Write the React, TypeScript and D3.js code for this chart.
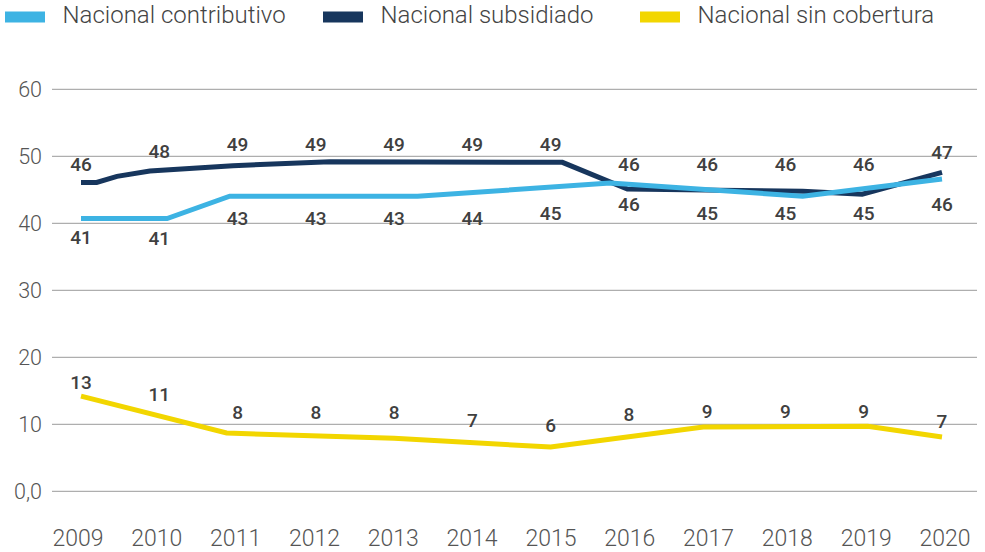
import React from "react";
import * as d3 from "d3";

const years = [2009, 2010, 2011, 2012, 2013, 2014, 2015, 2016, 2017, 2018, 2019, 2020];
const yTicks = [0, 10, 20, 30, 40, 50, 60];

// line traces (fractional year, value)
const contributivoLine: [number, number][] = [
  [2009.0, 40.7], [2010.1, 40.7], [2010.9, 44.05], [2013.3, 44.05],
  [2015.76, 46.0], [2018.22, 44.05], [2020.0, 46.6],
];
const subsidiadoLine: [number, number][] = [
  [2009.0, 46.1], [2009.2, 46.1], [2009.46, 47.0], [2009.88, 47.8],
  [2010.94, 48.6], [2012.18, 49.2], [2015.15, 49.1], [2015.98, 45.1],
  [2018.22, 44.8], [2018.98, 44.35], [2020.0, 47.6],
];
const sinCoberturaLine: [number, number][] = [
  [2009.0, 14.2], [2010.86, 8.7], [2013.0, 7.9], [2015.0, 6.6],
  [2016.95, 9.6], [2019.05, 9.7], [2020.0, 8.1],
];

// yearly values used for the data labels
const subsidiadoValues = [45.8, 47.8, 48.9, 48.9, 48.9, 48.9, 48.9, 45.9, 45.9, 45.9, 45.9, 47.7];
const subsidiadoLabels = [46, 48, 49, 49, 49, 49, 49, 46, 46, 46, 46, 47];
const contributivoValues = [40.85, 40.7, 43.7, 43.7, 43.7, 43.7, 44.5, 45.8, 44.5, 44.5, 44.5, 45.8];
const contributivoLabels = [41, 41, 43, 43, 43, 44, 45, 46, 45, 45, 45, 46];
const sinCoberturaValues = [13.3, 11.5, 8.85, 8.85, 8.85, 7.7, 6.9, 8.6, 9.0, 9.0, 9.0, 7.5];
const sinCoberturaLabels = [13, 11, 8, 8, 8, 7, 6, 8, 9, 9, 9, 7];

const seriesNames = ["Nacional contributivo", "Nacional subsidiado", "Nacional sin cobertura"];
const colors = ["#3DB3E3", "#17365D", "#F2D600"];

export default function App() {
  const W = 985, H = 552;
  const x = d3.scaleLinear().domain([2009, 2020]).range([81, 942]);
  const xTick = d3.scaleLinear().domain([2009, 2020]).range([78, 945]);
  const y = d3.scaleLinear().domain([0, 60]).range([491.3, 89.3]);
  const line = d3.line<[number, number]>().x((d) => x(d[0])).y((d) => y(d[1]));

  const font = "Roboto, 'Noto Sans', sans-serif";
  const legendX = [5, 323, 640];

  const labelEls = (vals: number[], labels: number[], above: boolean, key: string) =>
    years.map((yr, i) => (
      <text key={key + i} x={x(yr)} y={y(vals[i]) + (above ? -20 : 20)} dy="0.36em"
        textAnchor="middle" fontSize={19} fontWeight={500} fill="#404040">
        {labels[i]}
      </text>
    ));

  return (
    <svg width={W} height={H} style={{ position: "absolute", left: 0, top: 0 }} fontFamily={font}>
      <rect width={W} height={H} fill="#fff" />
      {/* legend */}
      {seriesNames.map((n, i) => (
        <g key={n}>
          <rect x={legendX[i]} y={11.5} width={40} height={11} fill={colors[i]} />
          <text x={legendX[i] + 57.5} y={23.3} fontSize={24} fontWeight={300} fill="#444">{n}</text>
        </g>
      ))}
      {/* grid */}
      {yTicks.map((t) => (
        <g key={t}>
          <line x1={52} x2={977} y1={y(t)} y2={y(t)} stroke="#9a9a9a" strokeWidth={1} />
          <text x={42} y={y(t)} dy="0.36em" textAnchor="end" fontSize={21.5} fontWeight={300} fill="#555">
            {t === 0 ? "0,0" : t}
          </text>
        </g>
      ))}
      {years.map((yr) => (
        <text key={yr} x={xTick(yr)} y={546} textAnchor="middle" fontSize={23} fontWeight={300} fill="#555">
          {yr}
        </text>
      ))}
      {/* lines */}
      <path d={line(sinCoberturaLine) || ""} fill="none" stroke={colors[2]} strokeWidth={5} />
      <path d={line(subsidiadoLine) || ""} fill="none" stroke={colors[1]} strokeWidth={5} />
      <path d={line(contributivoLine) || ""} fill="none" stroke={colors[0]} strokeWidth={5} />
      {/* labels */}
      {labelEls(subsidiadoValues, subsidiadoLabels, true, "s")}
      {labelEls(contributivoValues, contributivoLabels, false, "c")}
      {labelEls(sinCoberturaValues, sinCoberturaLabels, true, "y")}
    </svg>
  );
}
